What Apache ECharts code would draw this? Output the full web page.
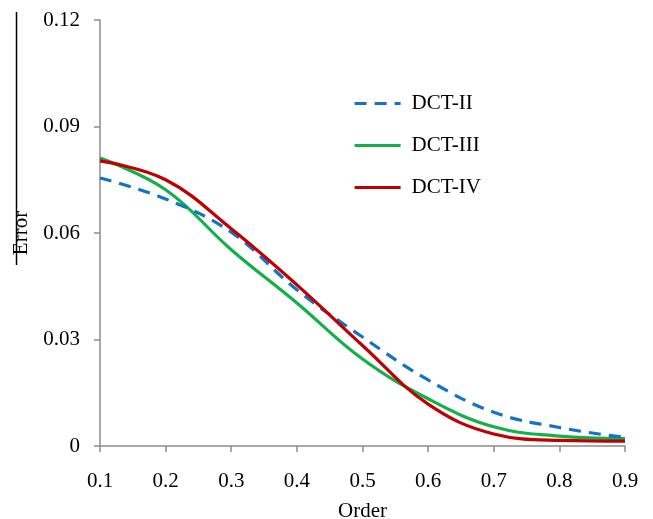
<!DOCTYPE html>
<html>
<head>
<meta charset="utf-8">
<script src="https://cdn.jsdelivr.net/npm/echarts@6/dist/echarts.min.js"></script>
<style>
  html, body { margin: 0; padding: 0; background: #fff; }
  #chart { width: 653px; height: 519px; }
</style>
</head>
<body>
<div id="chart"></div>
<script>
// Fractional order values on the horizontal axis
const orders = [0.1, 0.2, 0.3, 0.4, 0.5, 0.6, 0.7, 0.8, 0.9];

// Error of each transform at each order
const dct2 = [0.0755, 0.0696, 0.0602, 0.0440, 0.0307, 0.0186, 0.0095, 0.0052, 0.0024];
const dct3 = [0.0811, 0.0722, 0.0553, 0.0403, 0.0245, 0.0133, 0.0054, 0.0028, 0.0021];
const dct4 = [0.0803, 0.0750, 0.0612, 0.0454, 0.0283, 0.0118, 0.0034, 0.0016, 0.0014];

const seriesNames = ['DCT-II', 'DCT-III', 'DCT-IV'];

const font = '"Liberation Serif", "Times New Roman", serif';
const axisGray = '#8c8c8c';
const fontSize = 21;

function pairs(values) {
  return orders.map((x, i) => [x, values[i]]);
}

const chart = echarts.init(document.getElementById('chart'), null, { renderer: 'canvas' });

chart.setOption({
  animation: false,
  backgroundColor: '#fff',
  grid: { left: 100, right: 28, top: 20, bottom: 73, containLabel: false, outerBoundsMode: 'none' },
  legend: {
    orient: 'vertical',
    left: 348,
    top: 88,
    itemWidth: 46,
    itemHeight: 14,
    itemGap: 21,
    itemStyle: { opacity: 0 },
    lineStyle: { width: 3.2 },
    textStyle: { fontFamily: font, fontSize: fontSize, color: '#000', padding: [0, 0, 0, 6] },
    data: seriesNames
  },
  xAxis: {
    type: 'value',
    min: 0.1,
    max: 0.9,
    interval: 0.1,
    name: 'Order',
    nameLocation: 'middle',
    nameGap: 55,
    nameTextStyle: { fontFamily: font, fontSize: fontSize, color: '#000' },
    axisLine: { lineStyle: { color: axisGray, width: 1.5 } },
    axisTick: { show: true, length: 6, lineStyle: { color: axisGray, width: 1.5 } },
    axisLabel: {
      margin: 25,
      fontFamily: font,
      fontSize: fontSize,
      color: '#000',
      formatter: v => v.toFixed(1)
    },
    splitLine: { show: false }
  },
  yAxis: {
    type: 'value',
    min: 0,
    max: 0.12,
    interval: 0.03,
    name: 'Error',
    nameLocation: 'middle',
    nameRotate: 90,
    nameGap: 62,
    nameTextStyle: { fontFamily: font, fontSize: fontSize, color: '#000' },
    axisLine: { show: true, lineStyle: { color: axisGray, width: 1.5 } },
    axisTick: { show: true, length: 6, lineStyle: { color: axisGray, width: 1.5 } },
    axisLabel: {
      margin: 20,
      fontFamily: font,
      fontSize: fontSize,
      color: '#000',
      formatter: v => (v === 0 ? '0' : v.toFixed(2))
    },
    splitLine: { show: false }
  },
  series: [
    {
      name: seriesNames[0],
      type: 'line',
      smooth: 0.4,
      symbol: 'none',
      data: pairs(dct2),
      lineStyle: { color: '#1273c9', width: 3.2, type: [12, 8] },
      itemStyle: { color: '#1273c9' },
      z: 3
    },
    {
      name: seriesNames[1],
      type: 'line',
      smooth: 0.4,
      symbol: 'none',
      data: pairs(dct3),
      lineStyle: { color: '#13b04a', width: 3.2 },
      itemStyle: { color: '#13b04a' },
      z: 2
    },
    {
      name: seriesNames[2],
      type: 'line',
      smooth: 0.4,
      symbol: 'none',
      data: pairs(dct4),
      lineStyle: { color: '#c00000', width: 3.2 },
      itemStyle: { color: '#c00000' },
      z: 4
    }
  ],
  graphic: [
    {
      type: 'line',
      shape: { x1: 16.5, y1: 12, x2: 16.5, y2: 265 },
      style: { stroke: '#000', lineWidth: 1.5 }
    }
  ]
});
</script>
</body>
</html>
